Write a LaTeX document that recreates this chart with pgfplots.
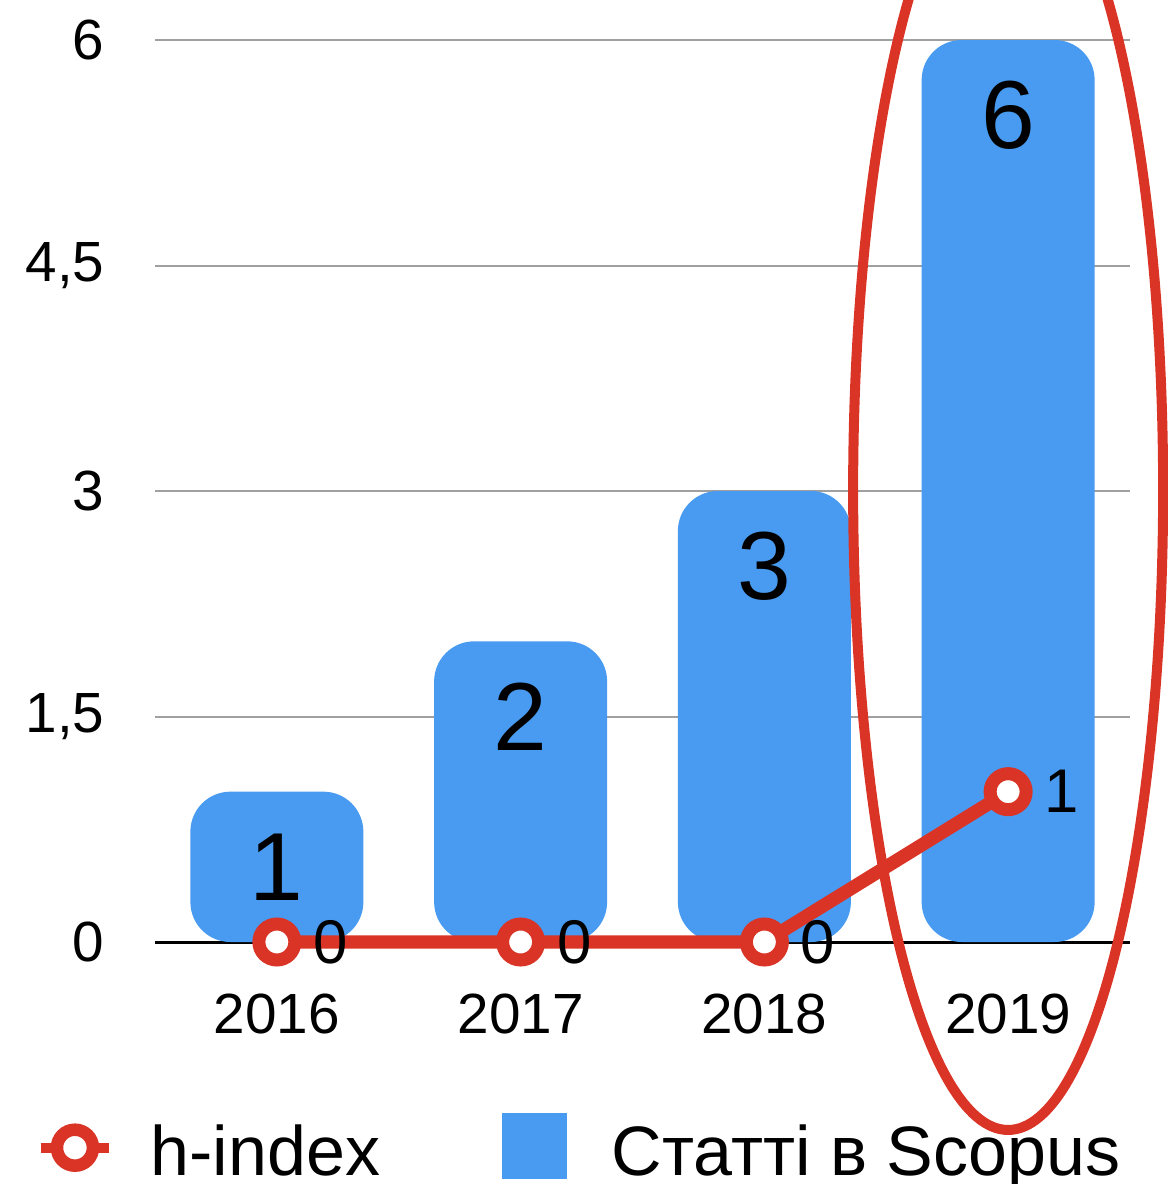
\documentclass[border=0pt]{standalone}
\usepackage{fontspec}
\setmainfont{Liberation Sans}
\usepackage{pgfplots}
\pgfplotsset{compat=1.18}
\definecolor{bblue}{RGB}{72,155,240}
\definecolor{hred}{RGB}{218,52,38}
\definecolor{gridgray}{RGB}{160,160,160}
\begin{document}
\begin{tikzpicture}
\begin{axis}[
  name=ax,
  scale only axis, width=292.5pt, height=270.6pt,
  xmin=-0.5, xmax=3.5, ymin=0, ymax=6,
  clip=false,
  axis x line*=bottom, axis y line*=left,
  x axis line style={-, black, line width=0.9pt},
  y axis line style={draw=none},
  xtick={0,1,2,3}, xticklabels={2016,2017,2018,2019},
  ytick={0,1.5,3,4.5,6},
  major tick length=0pt,
  ymajorgrids, grid style={gridgray, line width=0.6pt},
  /pgf/number format/assume math mode=true,
  /pgf/number format/use comma,
  tick label style={font=\fontsize{17}{20}\selectfont, inner sep=0pt},
  xticklabel style={anchor=north, yshift=-15.3pt},
  yticklabel style={anchor=east, xshift=-15pt},
  legend style={at={(-0.1221,-0.1896)}, anchor=north west, draw=none, fill=none,
    inner sep=0pt, outer sep=0pt, legend columns=2,
    font=\fontsize{21}{25}\selectfont,
    cells={anchor=base west, inner sep=0pt},
    /tikz/column 1/.style={column sep=9pt},
    /tikz/column 2/.style={column sep=34.6pt},
    /tikz/column 3/.style={column sep=11.5pt}},
]
\addlegendimage{legend image code/.code={
  \draw[hred, line width=3pt] (0pt,8.4pt) -- (20.4pt,8.4pt);
  \draw[hred, line width=3.75pt, fill=white] (10.2pt,8.4pt) circle (5.4pt);}}
\addlegendentry{h-index}
\addlegendimage{legend image code/.code={
  \fill[bblue] (0pt,-0.9pt) rectangle (19pt,18.6pt);}}
\addlegendentry{Статті в Scopus}

\addplot[ybar, bar width=51.9pt, fill=bblue, draw=none, rounded corners=12pt, forget plot,
  nodes near coords,
  every node near coord/.append style={font=\fontsize{29}{34}\selectfont, anchor=center, yshift=-22.6pt, text=black, rounded corners=0pt}]
  coordinates {(0,1) (1,2) (2,3) (3,6)};

\addplot[hred, line width=4pt, sharp plot, mark=*, mark size=5.4pt,
  mark options={fill=white, draw=hred, line width=3.9pt}, forget plot,
  nodes near coords,
  every node near coord/.append style={anchor=west, xshift=9pt, inner sep=0pt, text=black, font=\fontsize{18.5}{22}\selectfont}]
  coordinates {(0,0) (1,0) (2,0) (3,1)};

\draw[hred, line width=3pt] (axis cs:3,3.007) ellipse [x radius=46.5pt, y radius=192pt];
\end{axis}
\pgfresetboundingbox
\path[use as bounding box] ([shift={(-46.5pt,-72.6pt)}]ax.south west) rectangle ([shift={(303.6pt,282.6pt)}]ax.south west);
\end{tikzpicture}
\end{document}
